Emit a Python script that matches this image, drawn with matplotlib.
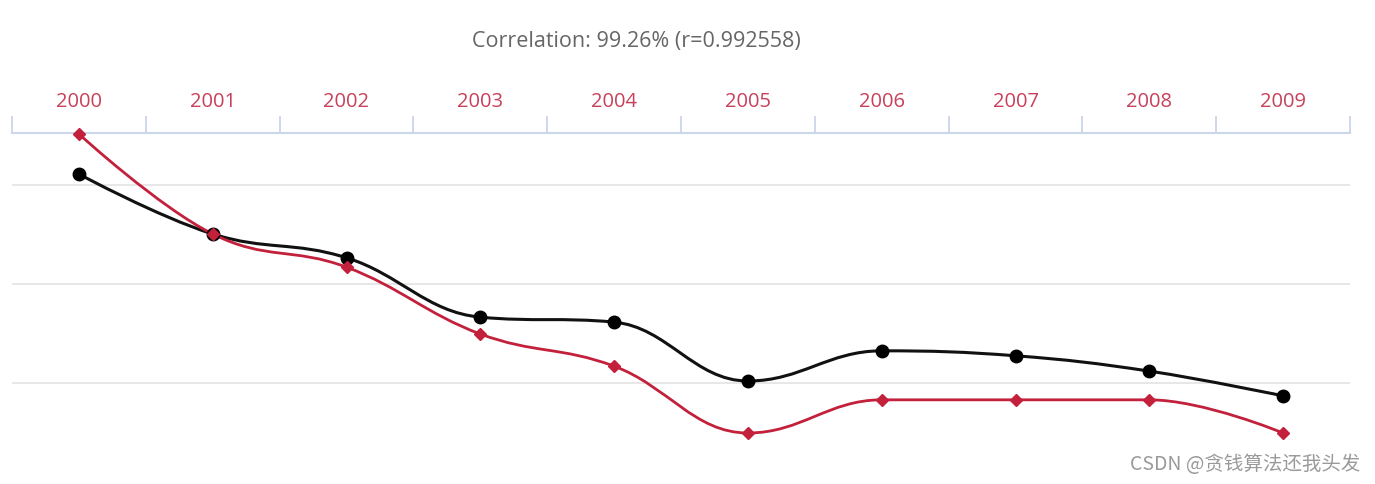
import numpy as np
import matplotlib
matplotlib.use("Agg")
import matplotlib.pyplot as plt
from matplotlib.path import Path
from matplotlib.patches import PathPatch

years = ["2000", "2001", "2002", "2003", "2004", "2005", "2006", "2007", "2008", "2009"]
black_vals = [62.2, 50.1, 45.3, 33.3, 32.3, 20.4, 26.5, 25.5, 22.4, 17.4]
red_vals = [70.3, 50.1, 43.4, 29.9, 23.4, 9.9, 16.6, 16.6, 16.6, 9.9]
grid_vals = [20, 40, 60]
title = "Correlation: 99.26% (r=0.992558)"

RED = "#c3203c"


def spline_path(xs, ys, smoothing=1.5):
    # highcharts-like spline: cubic bezier between points
    n = len(xs)
    denom = smoothing + 1
    left = [None] * n
    right = [None] * n
    for i in range(n):
        x, y = xs[i], ys[i]
        if i == 0 or i == n - 1:
            left[i] = (x, y)
            right[i] = (x, y)
            continue
        px, py = xs[i - 1], ys[i - 1]
        nx, ny = xs[i + 1], ys[i + 1]
        lcx = (smoothing * x + px) / denom
        lcy = (smoothing * y + py) / denom
        rcx = (smoothing * x + nx) / denom
        rcy = (smoothing * y + ny) / denom
        if rcx != lcx:
            corr = ((rcy - lcy) * (rcx - x)) / (rcx - lcx) + y - rcy
            lcy += corr
            rcy += corr
        if lcy > py and lcy > y:
            lcy = max(py, y)
            rcy = 2 * y - lcy
        elif lcy < py and lcy < y:
            lcy = min(py, y)
            rcy = 2 * y - lcy
        if rcy > ny and rcy > y:
            rcy = max(ny, y)
            lcy = 2 * y - rcy
        elif rcy < ny and rcy < y:
            rcy = min(ny, y)
            lcy = 2 * y - rcy
        left[i] = (lcx, lcy)
        right[i] = (rcx, rcy)
    verts = [(xs[0], ys[0])]
    codes = [Path.MOVETO]
    for i in range(1, n):
        verts += [right[i - 1], left[i], (xs[i], ys[i])]
        codes += [Path.CURVE4] * 3
    return Path(verts, codes)


fig = plt.figure(figsize=(13.75, 4.85), dpi=100)
ax = fig.add_axes([12 / 1375, 2 / 485, 1338 / 1375, 349 / 485])

x = np.arange(len(years))
ax.set_xlim(-0.5, len(years) - 0.5)
ax.set_ylim(0, 70.5)

for g in grid_vals:
    ax.axhline(g, color="#e3e3e3", lw=1.2, zorder=0)

ax.add_patch(PathPatch(spline_path(x, black_vals), fc="none", ec="#111111", lw=2.2, zorder=2))
ax.add_patch(PathPatch(spline_path(x, red_vals), fc="none", ec=RED, lw=2.0, zorder=3))
ax.plot(x, black_vals, ls="none", marker="o", ms=9, color="#000000", zorder=4)
ax.plot(x, red_vals, ls="none", marker="D", ms=6, color=RED, zorder=5, clip_on=False)

for s in ["left", "right", "bottom"]:
    ax.spines[s].set_visible(False)
ax.spines["top"].set_color("#ccd6eb")
ax.spines["top"].set_linewidth(1.5)
ax.set_yticks([])
ax.xaxis.tick_top()
ax.set_xticks(x)
ax.set_xticklabels(years, fontsize=14.5, color="#c8405a", family="Open Sans")
ax.tick_params(axis="x", which="major", length=0, pad=16)
ax.set_xticks(np.arange(-0.5, len(years)), minor=True)
ax.tick_params(axis="x", which="minor", length=12, width=1.3, color="#ccd6eb", direction="out")

fig.text(636 / 1375, 1 - 41 / 485, title, ha="center", va="center",
         fontsize=15.5, color="#666666", family="Open Sans")
fig.text(1360 / 1375, 1 - 465 / 485, "CSDN @贪钱算法还我头发", ha="right", va="center",
         fontsize=14, color="#9a9a9a", family=["Noto Sans CJK SC", "DejaVu Sans"])

fig.savefig("out.png", dpi=100)
